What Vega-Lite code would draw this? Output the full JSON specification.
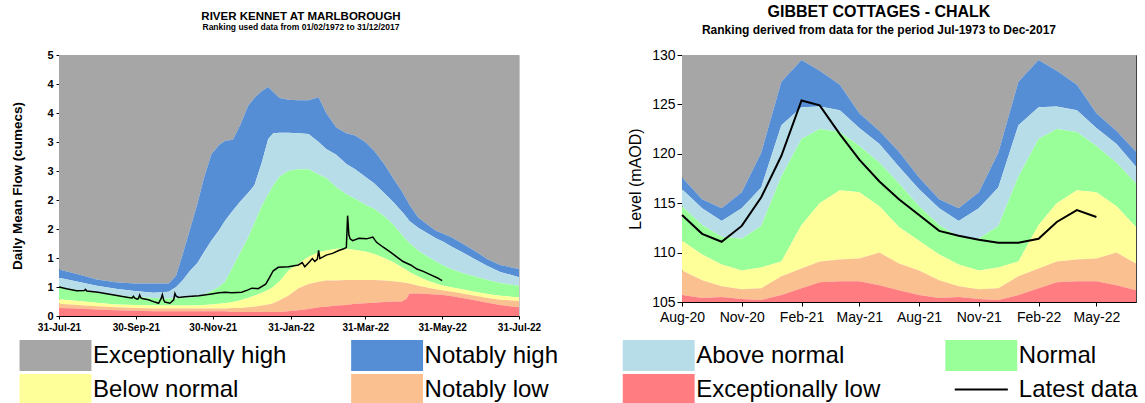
{
  "$schema": "https://vega.github.io/schema/vega-lite/v6.json",
  "padding": {"left": 10, "top": 3, "right": 0, "bottom": 0},
  "background": "white",
  "spacing": 85,
  "config": {
    "font": "Liberation Sans",
    "view": {"stroke": null},
    "axis": {"grid": false, "domainColor": "#000", "tickColor": "#000", "labelColor": "#000", "titleColor": "#000", "labelOverlap": false, "labelFlush": false},
    "title": {"color": "#000", "subtitleColor": "#000"}
  },
  "datasets": {
    "kb": [
      {"date": "2021-07-31", "b1": 0.14, "b2": 0.21, "b3": 0.29, "b4": 0.50, "b5": 0.66, "b6": 0.80},
      {"date": "2021-08-15", "b1": 0.13, "b2": 0.19, "b3": 0.26, "b4": 0.45, "b5": 0.59, "b6": 0.72},
      {"date": "2021-08-30", "b1": 0.11, "b2": 0.17, "b3": 0.23, "b4": 0.40, "b5": 0.52, "b6": 0.63},
      {"date": "2021-09-14", "b1": 0.10, "b2": 0.15, "b3": 0.20, "b4": 0.36, "b5": 0.47, "b6": 0.58},
      {"date": "2021-09-29", "b1": 0.09, "b2": 0.14, "b3": 0.19, "b4": 0.33, "b5": 0.43, "b6": 0.56},
      {"date": "2021-10-14", "b1": 0.08, "b2": 0.13, "b3": 0.18, "b4": 0.31, "b5": 0.40, "b6": 0.56},
      {"date": "2021-10-26", "b1": 0.08, "b2": 0.13, "b3": 0.18, "b4": 0.30, "b5": 0.42, "b6": 0.56},
      {"date": "2021-11-01", "b1": 0.08, "b2": 0.13, "b3": 0.18, "b4": 0.30, "b5": 0.50, "b6": 0.70},
      {"date": "2021-11-06", "b1": 0.08, "b2": 0.13, "b3": 0.18, "b4": 0.31, "b5": 0.61, "b6": 1.05},
      {"date": "2021-11-12", "b1": 0.08, "b2": 0.13, "b3": 0.18, "b4": 0.32, "b5": 0.78, "b6": 1.50},
      {"date": "2021-11-18", "b1": 0.08, "b2": 0.13, "b3": 0.18, "b4": 0.34, "b5": 0.92, "b6": 1.95},
      {"date": "2021-11-23", "b1": 0.08, "b2": 0.13, "b3": 0.19, "b4": 0.37, "b5": 1.10, "b6": 2.38},
      {"date": "2021-11-29", "b1": 0.08, "b2": 0.13, "b3": 0.20, "b4": 0.43, "b5": 1.30, "b6": 2.79},
      {"date": "2021-12-05", "b1": 0.08, "b2": 0.13, "b3": 0.21, "b4": 0.50, "b5": 1.48, "b6": 2.95},
      {"date": "2021-12-10", "b1": 0.08, "b2": 0.13, "b3": 0.22, "b4": 0.60, "b5": 1.65, "b6": 3.02},
      {"date": "2021-12-16", "b1": 0.07, "b2": 0.14, "b3": 0.24, "b4": 0.85, "b5": 1.82, "b6": 3.04},
      {"date": "2021-12-22", "b1": 0.07, "b2": 0.14, "b3": 0.27, "b4": 1.10, "b5": 1.98, "b6": 3.30},
      {"date": "2021-12-28", "b1": 0.07, "b2": 0.15, "b3": 0.31, "b4": 1.35, "b5": 2.12, "b6": 3.62},
      {"date": "2022-01-02", "b1": 0.07, "b2": 0.16, "b3": 0.35, "b4": 1.60, "b5": 2.25, "b6": 3.76},
      {"date": "2022-01-08", "b1": 0.07, "b2": 0.18, "b3": 0.40, "b4": 1.90, "b5": 2.65, "b6": 3.88},
      {"date": "2022-01-13", "b1": 0.07, "b2": 0.20, "b3": 0.45, "b4": 2.10, "b5": 3.05, "b6": 3.95},
      {"date": "2022-01-17", "b1": 0.07, "b2": 0.22, "b3": 0.50, "b4": 2.25, "b5": 3.15, "b6": 3.86},
      {"date": "2022-01-22", "b1": 0.07, "b2": 0.27, "b3": 0.60, "b4": 2.40, "b5": 3.16, "b6": 3.76},
      {"date": "2022-01-29", "b1": 0.08, "b2": 0.35, "b3": 0.78, "b4": 2.50, "b5": 3.16, "b6": 3.73},
      {"date": "2022-02-06", "b1": 0.10, "b2": 0.48, "b3": 0.90, "b4": 2.53, "b5": 3.15, "b6": 3.72},
      {"date": "2022-02-14", "b1": 0.12, "b2": 0.55, "b3": 1.02, "b4": 2.53, "b5": 3.14, "b6": 3.72},
      {"date": "2022-02-22", "b1": 0.15, "b2": 0.59, "b3": 1.10, "b4": 2.44, "b5": 3.00, "b6": 3.77},
      {"date": "2022-02-28", "b1": 0.16, "b2": 0.61, "b3": 1.13, "b4": 2.38, "b5": 2.88, "b6": 3.50},
      {"date": "2022-03-08", "b1": 0.18, "b2": 0.61, "b3": 1.16, "b4": 2.22, "b5": 2.78, "b6": 3.25},
      {"date": "2022-03-16", "b1": 0.19, "b2": 0.62, "b3": 1.16, "b4": 2.10, "b5": 2.62, "b6": 3.15},
      {"date": "2022-03-23", "b1": 0.21, "b2": 0.62, "b3": 1.14, "b4": 2.02, "b5": 2.53, "b6": 3.11},
      {"date": "2022-03-31", "b1": 0.22, "b2": 0.62, "b3": 1.11, "b4": 1.92, "b5": 2.40, "b6": 3.00},
      {"date": "2022-04-07", "b1": 0.23, "b2": 0.62, "b3": 1.07, "b4": 1.85, "b5": 2.29, "b6": 2.85},
      {"date": "2022-04-15", "b1": 0.24, "b2": 0.61, "b3": 1.00, "b4": 1.72, "b5": 2.12, "b6": 2.62},
      {"date": "2022-04-22", "b1": 0.25, "b2": 0.60, "b3": 0.93, "b4": 1.58, "b5": 1.97, "b6": 2.38},
      {"date": "2022-04-29", "b1": 0.25, "b2": 0.58, "b3": 0.84, "b4": 1.40, "b5": 1.80, "b6": 2.15},
      {"date": "2022-05-03", "b1": 0.30, "b2": 0.57, "b3": 0.79, "b4": 1.30, "b5": 1.70, "b6": 2.00},
      {"date": "2022-05-05", "b1": 0.39, "b2": 0.56, "b3": 0.76, "b4": 1.26, "b5": 1.64, "b6": 1.92},
      {"date": "2022-05-12", "b1": 0.39, "b2": 0.52, "b3": 0.68, "b4": 1.13, "b5": 1.52, "b6": 1.70},
      {"date": "2022-05-19", "b1": 0.38, "b2": 0.49, "b3": 0.61, "b4": 1.03, "b5": 1.43, "b6": 1.58},
      {"date": "2022-05-26", "b1": 0.37, "b2": 0.46, "b3": 0.56, "b4": 0.94, "b5": 1.34, "b6": 1.47},
      {"date": "2022-06-01", "b1": 0.36, "b2": 0.44, "b3": 0.52, "b4": 0.87, "b5": 1.28, "b6": 1.42},
      {"date": "2022-06-08", "b1": 0.34, "b2": 0.42, "b3": 0.49, "b4": 0.80, "b5": 1.19, "b6": 1.35},
      {"date": "2022-06-16", "b1": 0.31, "b2": 0.39, "b3": 0.46, "b4": 0.74, "b5": 1.10, "b6": 1.25},
      {"date": "2022-06-26", "b1": 0.27, "b2": 0.35, "b3": 0.42, "b4": 0.68, "b5": 0.98, "b6": 1.12},
      {"date": "2022-07-06", "b1": 0.23, "b2": 0.31, "b3": 0.38, "b4": 0.62, "b5": 0.86, "b6": 0.98},
      {"date": "2022-07-16", "b1": 0.19, "b2": 0.28, "b3": 0.35, "b4": 0.57, "b5": 0.76, "b6": 0.88},
      {"date": "2022-07-31", "b1": 0.15, "b2": 0.26, "b3": 0.32, "b4": 0.52, "b5": 0.67, "b6": 0.81}
    ],
    "kl": [
      {"date": "2021-07-31", "flow": 0.50}, {"date": "2021-08-06", "flow": 0.47}, {"date": "2021-08-14", "flow": 0.435},
      {"date": "2021-08-20", "flow": 0.44}, {"date": "2021-08-21", "flow": 0.46}, {"date": "2021-08-22", "flow": 0.43},
      {"date": "2021-08-31", "flow": 0.41}, {"date": "2021-09-08", "flow": 0.38}, {"date": "2021-09-16", "flow": 0.35},
      {"date": "2021-09-24", "flow": 0.32}, {"date": "2021-09-27", "flow": 0.31}, {"date": "2021-09-28", "flow": 0.34},
      {"date": "2021-09-29", "flow": 0.31}, {"date": "2021-10-01", "flow": 0.29}, {"date": "2021-10-02", "flow": 0.30},
      {"date": "2021-10-03", "flow": 0.36}, {"date": "2021-10-04", "flow": 0.31}, {"date": "2021-10-05", "flow": 0.30},
      {"date": "2021-10-10", "flow": 0.28}, {"date": "2021-10-15", "flow": 0.24}, {"date": "2021-10-18", "flow": 0.22},
      {"date": "2021-10-20", "flow": 0.30}, {"date": "2021-10-21", "flow": 0.37}, {"date": "2021-10-22", "flow": 0.28},
      {"date": "2021-10-23", "flow": 0.24}, {"date": "2021-10-27", "flow": 0.22}, {"date": "2021-10-30", "flow": 0.28},
      {"date": "2021-10-31", "flow": 0.39}, {"date": "2021-11-01", "flow": 0.34}, {"date": "2021-11-03", "flow": 0.32},
      {"date": "2021-11-08", "flow": 0.33}, {"date": "2021-11-19", "flow": 0.35}, {"date": "2021-11-29", "flow": 0.38},
      {"date": "2021-12-05", "flow": 0.40}, {"date": "2021-12-10", "flow": 0.41}, {"date": "2021-12-15", "flow": 0.40},
      {"date": "2021-12-23", "flow": 0.41}, {"date": "2021-12-28", "flow": 0.45}, {"date": "2021-12-31", "flow": 0.48},
      {"date": "2022-01-05", "flow": 0.47}, {"date": "2022-01-11", "flow": 0.55}, {"date": "2022-01-14", "flow": 0.66},
      {"date": "2022-01-17", "flow": 0.78}, {"date": "2022-01-21", "flow": 0.84}, {"date": "2022-01-29", "flow": 0.85},
      {"date": "2022-02-06", "flow": 0.88}, {"date": "2022-02-09", "flow": 0.92}, {"date": "2022-02-11", "flow": 0.85},
      {"date": "2022-02-15", "flow": 0.94}, {"date": "2022-02-17", "flow": 0.99}, {"date": "2022-02-19", "flow": 0.94},
      {"date": "2022-02-21", "flow": 0.98}, {"date": "2022-02-22", "flow": 1.13}, {"date": "2022-02-23", "flow": 0.99},
      {"date": "2022-02-28", "flow": 1.05}, {"date": "2022-03-05", "flow": 1.08}, {"date": "2022-03-10", "flow": 1.13},
      {"date": "2022-03-14", "flow": 1.16}, {"date": "2022-03-16", "flow": 1.18}, {"date": "2022-03-17", "flow": 1.73},
      {"date": "2022-03-18", "flow": 1.40}, {"date": "2022-03-19", "flow": 1.33}, {"date": "2022-03-21", "flow": 1.30},
      {"date": "2022-03-26", "flow": 1.34}, {"date": "2022-04-01", "flow": 1.33}, {"date": "2022-04-06", "flow": 1.36},
      {"date": "2022-04-09", "flow": 1.27}, {"date": "2022-04-14", "flow": 1.19}, {"date": "2022-04-20", "flow": 1.10},
      {"date": "2022-04-25", "flow": 1.02}, {"date": "2022-04-30", "flow": 0.94}, {"date": "2022-05-06", "flow": 0.88},
      {"date": "2022-05-11", "flow": 0.81}, {"date": "2022-05-16", "flow": 0.77}, {"date": "2022-05-22", "flow": 0.71},
      {"date": "2022-05-27", "flow": 0.66}, {"date": "2022-05-31", "flow": 0.61}
    ],
    "gb": [
      {"date": "2020-08-01", "b1": 105.7, "b2": 108.2, "b3": 111.2, "b4": 114.7, "b5": 116.4, "b6": 117.6},
      {"date": "2020-09-01", "b1": 105.4, "b2": 107.2, "b3": 109.8, "b4": 112.8, "b5": 114.5, "b6": 115.4},
      {"date": "2020-10-01", "b1": 105.5, "b2": 106.6, "b3": 108.8, "b4": 111.6, "b5": 113.2, "b6": 114.5},
      {"date": "2020-11-01", "b1": 105.3, "b2": 106.3, "b3": 108.2, "b4": 111.4, "b5": 114.5, "b6": 116.1},
      {"date": "2020-12-01", "b1": 105.2, "b2": 106.4, "b3": 108.5, "b4": 112.7, "b5": 116.6, "b6": 120.1},
      {"date": "2021-01-01", "b1": 105.7, "b2": 107.6, "b3": 109.1, "b4": 117.7, "b5": 122.9, "b6": 127.3},
      {"date": "2021-02-01", "b1": 106.4, "b2": 108.4, "b3": 112.8, "b4": 121.5, "b5": 124.7, "b6": 129.5},
      {"date": "2021-03-01", "b1": 107.0, "b2": 109.1, "b3": 115.0, "b4": 122.5, "b5": 124.8, "b6": 128.4},
      {"date": "2021-04-01", "b1": 107.1, "b2": 109.3, "b3": 116.3, "b4": 122.2, "b5": 124.4, "b6": 127.0},
      {"date": "2021-05-01", "b1": 107.1, "b2": 109.4, "b3": 116.1, "b4": 120.8, "b5": 122.6, "b6": 124.1},
      {"date": "2021-06-01", "b1": 106.7, "b2": 110.0, "b3": 114.7, "b4": 119.1, "b5": 121.0, "b6": 122.3},
      {"date": "2021-07-01", "b1": 106.2, "b2": 108.9, "b3": 112.6, "b4": 117.0, "b5": 118.7, "b6": 120.2},
      {"date": "2021-08-01", "b1": 105.7, "b2": 108.2, "b3": 111.2, "b4": 114.7, "b5": 116.4, "b6": 117.6},
      {"date": "2021-09-01", "b1": 105.4, "b2": 107.2, "b3": 109.8, "b4": 112.8, "b5": 114.5, "b6": 115.4},
      {"date": "2021-10-01", "b1": 105.5, "b2": 106.6, "b3": 108.8, "b4": 111.6, "b5": 113.2, "b6": 114.5},
      {"date": "2021-11-01", "b1": 105.3, "b2": 106.3, "b3": 108.2, "b4": 111.4, "b5": 114.5, "b6": 116.1},
      {"date": "2021-12-01", "b1": 105.2, "b2": 106.4, "b3": 108.5, "b4": 112.7, "b5": 116.6, "b6": 120.1},
      {"date": "2022-01-01", "b1": 105.7, "b2": 107.6, "b3": 109.1, "b4": 117.7, "b5": 122.9, "b6": 127.3},
      {"date": "2022-02-01", "b1": 106.4, "b2": 108.4, "b3": 112.8, "b4": 121.5, "b5": 124.7, "b6": 129.5},
      {"date": "2022-03-01", "b1": 107.0, "b2": 109.1, "b3": 115.0, "b4": 122.5, "b5": 124.8, "b6": 128.4},
      {"date": "2022-04-01", "b1": 107.1, "b2": 109.3, "b3": 116.3, "b4": 122.2, "b5": 124.4, "b6": 127.0},
      {"date": "2022-05-01", "b1": 107.1, "b2": 109.4, "b3": 116.1, "b4": 120.8, "b5": 122.6, "b6": 124.1},
      {"date": "2022-06-01", "b1": 106.7, "b2": 110.0, "b3": 114.7, "b4": 119.1, "b5": 121.0, "b6": 122.3},
      {"date": "2022-07-01", "b1": 106.2, "b2": 108.9, "b3": 112.6, "b4": 117.0, "b5": 118.7, "b6": 120.2}
    ],
    "gl": [
      {"date": "2020-08-01", "level": 113.8}, {"date": "2020-09-01", "level": 111.9}, {"date": "2020-10-01", "level": 111.1},
      {"date": "2020-11-01", "level": 112.7}, {"date": "2020-12-01", "level": 115.6}, {"date": "2021-01-01", "level": 119.8},
      {"date": "2021-02-01", "level": 125.4}, {"date": "2021-03-01", "level": 124.9}, {"date": "2021-04-01", "level": 122.0},
      {"date": "2021-05-01", "level": 119.4}, {"date": "2021-06-01", "level": 117.2}, {"date": "2021-07-01", "level": 115.4},
      {"date": "2021-08-01", "level": 113.8}, {"date": "2021-09-01", "level": 112.2}, {"date": "2021-10-01", "level": 111.7},
      {"date": "2021-11-01", "level": 111.3}, {"date": "2021-12-01", "level": 111.0}, {"date": "2022-01-01", "level": 111.0},
      {"date": "2022-02-01", "level": 111.4}, {"date": "2022-03-01", "level": 113.1}, {"date": "2022-04-01", "level": 114.3},
      {"date": "2022-05-01", "level": 113.6}
    ]
  },
  "hconcat": [
    {
      "width": 460,
      "height": 261,
      "view": {"stroke": "#c8c8c8"},
      "title": {
        "text": "RIVER KENNET AT MARLBOROUGH",
        "subtitle": "Ranking used data from 01/02/1972 to 31/12/2017",
        "fontSize": 11.5, "fontWeight": "bold",
        "subtitleFontSize": 8.5, "subtitleFontWeight": "bold",
        "subtitlePadding": 1.4, "offset": 17,
        "anchor": "middle", "frame": "group", "dx": 12
      },
      "data": {"name": "kb"},
      "encoding": {
        "x": {
          "field": "date", "type": "temporal",
          "scale": {"type": "utc", "domain": [{"year": 2021, "month": 7, "date": 31, "utc": true}, {"year": 2022, "month": 7, "date": 31, "utc": true}]},
          "axis": {
            "title": null, "format": "%d-%b-%y", "labelFontSize": 10, "labelFontWeight": "bold", "tickSize": 3, "labelPadding": 3, "tickCount": 12,
            "values": [
              {"year": 2021, "month": 7, "date": 31, "utc": true},
              {"year": 2021, "month": 9, "date": 30, "utc": true},
              {"year": 2021, "month": 11, "date": 30, "utc": true},
              {"year": 2022, "month": 1, "date": 31, "utc": true},
              {"year": 2022, "month": 3, "date": 31, "utc": true},
              {"year": 2022, "month": 5, "date": 31, "utc": true},
              {"year": 2022, "month": 7, "date": 31, "utc": true}
            ]
          }
        }
      },
      "layer": [
        {
          "mark": "area",
          "encoding": {
            "y": {
              "field": "b6", "type": "quantitative", "title": "Daily Mean Flow (cumecs)",
              "scale": {"domain": [0, 4.5], "nice": false, "zero": false},
              "axis": {"values": [0, 0.5, 1, 1.5, 2, 2.5, 3, 3.5, 4, 4.5], "tickCount": 12, "format": ".0f", "labelFontSize": 11, "labelFontWeight": "bold", "tickSize": 3, "labelPadding": 3, "titleFontSize": 13.5, "titleFontWeight": "bold", "titlePadding": 22}
            },
            "y2": {"datum": 4.5},
            "color": {
              "datum": "Exceptionally high",
              "scale": {
                "domain": ["Exceptionally high", "Notably high", "Above normal", "Normal", "Below normal", "Notably low", "Exceptionally low", "Latest data"],
                "range": ["#A6A6A6", "#558ED5", "#B7DEE8", "#99FF99", "#FFFF99", "#FAC090", "#FF7C80", "#000000"]
              },
              "legend": {
                "title": null, "orient": "none", "legendX": -19, "legendY": 285,
                "direction": "horizontal", "columns": 4, "columnPadding": 60.6, "rowPadding": -11, "gridAlign": "each", "padding": 0,
                "symbolSize": 841, "symbolStrokeWidth": 0,
                "labelFontSize": 24, "labelFont": "Liberation Sans", "labelColor": "#000", "labelOffset": 22, "labelLimit": 400,
                "encode": {
                  "symbols": {
                    "update": {
                      "shape": {"signal": "datum.value === 'Latest data' ? 'M-1.83,0H1.83' : 'M-2.41,-1H2.41V1H-2.41Z'"},
                      "stroke": {"signal": "datum.value === 'Latest data' ? '#000' : null"},
                      "strokeWidth": {"value": 2},
                      "opacity": {"value": 1}
                    }
                  }
                }
              }
            }
          }
        },
        {"mark": "area", "encoding": {"y": {"field": "b5", "type": "quantitative"}, "y2": {"field": "b6"}, "color": {"datum": "Notably high"}}},
        {"mark": "area", "encoding": {"y": {"field": "b4", "type": "quantitative"}, "y2": {"field": "b5"}, "color": {"datum": "Above normal"}}},
        {"mark": "area", "encoding": {"y": {"field": "b3", "type": "quantitative"}, "y2": {"field": "b4"}, "color": {"datum": "Normal"}}},
        {"mark": "area", "encoding": {"y": {"field": "b2", "type": "quantitative"}, "y2": {"field": "b3"}, "color": {"datum": "Below normal"}}},
        {"mark": "area", "encoding": {"y": {"field": "b1", "type": "quantitative"}, "y2": {"field": "b2"}, "color": {"datum": "Notably low"}}},
        {"mark": "area", "encoding": {"y": {"field": "b1", "type": "quantitative"}, "y2": {"datum": 0}, "color": {"datum": "Exceptionally low"}}},
        {
          "data": {"name": "kl"},
          "mark": {"type": "line", "strokeWidth": 1.5},
          "encoding": {"y": {"field": "flow", "type": "quantitative"}, "color": {"datum": "Latest data"}}
        }
      ]
    },
    {
      "width": 454,
      "height": 247,
      "view": {"stroke": "#404040"},
      "title": {
        "text": "GIBBET COTTAGES - CHALK",
        "subtitle": "Ranking derived from data for the period Jul-1973 to Dec-2017",
        "fontSize": 16, "fontWeight": "bold",
        "subtitleFontSize": 12, "subtitleFontWeight": "bold",
        "subtitlePadding": 5, "offset": 12.3,
        "anchor": "middle", "frame": "group", "dx": -30
      },
      "data": {"name": "gb"},
      "encoding": {
        "x": {
          "field": "date", "type": "temporal",
          "scale": {"type": "utc", "domain": [{"year": 2020, "month": 8, "date": 1, "utc": true}, {"year": 2022, "month": 7, "date": 1, "utc": true}]},
          "axis": {
            "title": null, "format": "%b-%y", "labelFontSize": 14, "tickSize": 4, "labelPadding": 4, "tickCount": 12,
            "values": [
              {"year": 2020, "month": 8, "date": 1, "utc": true},
              {"year": 2020, "month": 11, "date": 1, "utc": true},
              {"year": 2021, "month": 2, "date": 1, "utc": true},
              {"year": 2021, "month": 5, "date": 1, "utc": true},
              {"year": 2021, "month": 8, "date": 1, "utc": true},
              {"year": 2021, "month": 11, "date": 1, "utc": true},
              {"year": 2022, "month": 2, "date": 1, "utc": true},
              {"year": 2022, "month": 5, "date": 1, "utc": true}
            ]
          }
        }
      },
      "layer": [
        {
          "mark": "area",
          "encoding": {
            "y": {
              "field": "b6", "type": "quantitative", "title": "Level (mAOD)",
              "scale": {"domain": [105, 130], "nice": false, "zero": false},
              "axis": {"values": [105, 110, 115, 120, 125, 130], "tickCount": 8, "labelFontSize": 14, "tickSize": 5, "labelPadding": 2, "titleFontSize": 16, "titleFontWeight": "normal", "titlePadding": 8}
            },
            "y2": {"datum": 130},
            "color": {
              "datum": "Exceptionally high",
              "scale": {
                "domain": ["Exceptionally high", "Notably high", "Above normal", "Normal", "Below normal", "Notably low", "Exceptionally low", "Latest data"],
                "range": ["#A6A6A6", "#558ED5", "#B7DEE8", "#99FF99", "#FFFF99", "#FAC090", "#FF7C80", "#000000"]
              }
            }
          }
        },
        {"mark": "area", "encoding": {"y": {"field": "b5", "type": "quantitative"}, "y2": {"field": "b6"}, "color": {"datum": "Notably high"}}},
        {"mark": "area", "encoding": {"y": {"field": "b4", "type": "quantitative"}, "y2": {"field": "b5"}, "color": {"datum": "Above normal"}}},
        {"mark": "area", "encoding": {"y": {"field": "b3", "type": "quantitative"}, "y2": {"field": "b4"}, "color": {"datum": "Normal"}}},
        {"mark": "area", "encoding": {"y": {"field": "b2", "type": "quantitative"}, "y2": {"field": "b3"}, "color": {"datum": "Below normal"}}},
        {"mark": "area", "encoding": {"y": {"field": "b1", "type": "quantitative"}, "y2": {"field": "b2"}, "color": {"datum": "Notably low"}}},
        {"mark": "area", "encoding": {"y": {"field": "b1", "type": "quantitative"}, "y2": {"datum": 105}, "color": {"datum": "Exceptionally low"}}},
        {
          "data": {"name": "gl"},
          "mark": {"type": "line", "strokeWidth": 2},
          "encoding": {"y": {"field": "level", "type": "quantitative"}, "color": {"datum": "Latest data"}}
        }
      ]
    }
  ]
}
